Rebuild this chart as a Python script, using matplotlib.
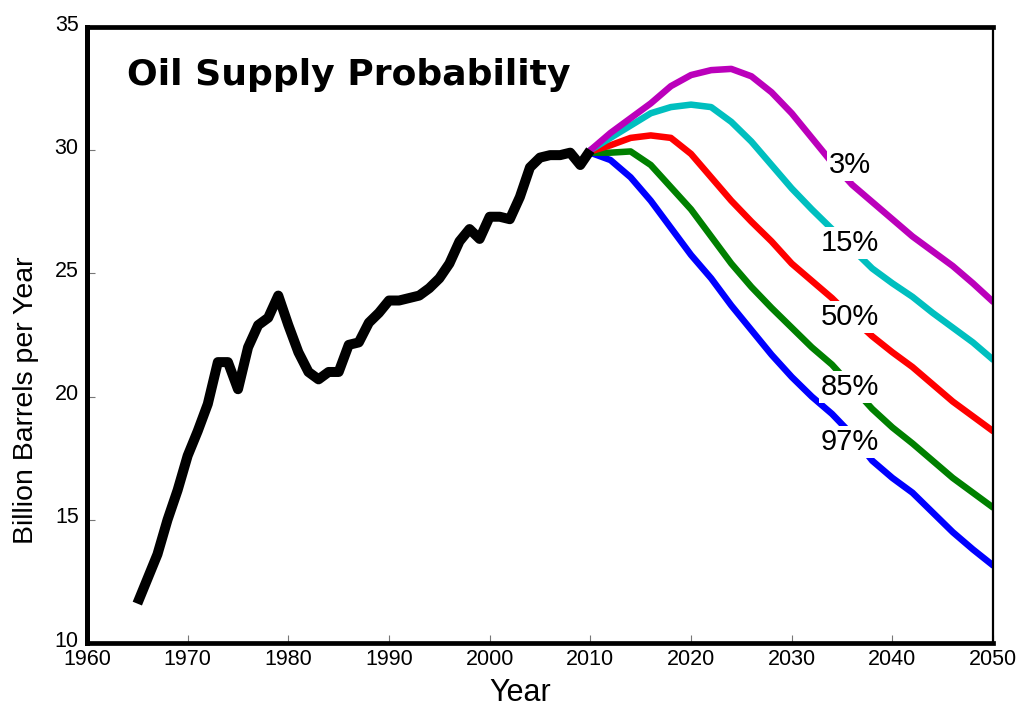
import matplotlib
matplotlib.use("Agg")
import matplotlib.pyplot as plt
import matplotlib.transforms as mtransforms

## DATA ##
# Historical world oil production (billion barrels per year)
hist_years = list(range(1965, 2011))
hist_values = [11.6, 12.6, 13.6, 15.0, 16.2, 17.6, 18.6, 19.7, 21.4, 21.4,
               20.3, 22.0, 22.9, 23.2, 24.1, 22.9, 21.8, 21.0, 20.7, 21.0,
               21.0, 22.1, 22.2, 23.0, 23.4, 23.9, 23.9, 24.0, 24.1, 24.4,
               24.8, 25.4, 26.3, 26.8, 26.4, 27.3, 27.3, 27.2, 28.1, 29.3,
               29.7, 29.8, 29.8, 29.9, 29.4, 30.0]

# Projections, one value every two years from 2010 to 2050
proj_years = list(range(2010, 2051, 2))
p03 = [30.0, 30.7, 31.3, 31.9, 32.6, 33.05, 33.25, 33.3, 33.0, 32.35, 31.5,
       30.5, 29.5, 28.6, 27.9, 27.2, 26.5, 25.9, 25.3, 24.6, 23.85]
p15 = [30.0, 30.5, 31.0, 31.5, 31.75, 31.85, 31.75, 31.15, 30.35, 29.4, 28.45,
       27.6, 26.8, 26.0, 25.2, 24.6, 24.05, 23.4, 22.8, 22.2, 21.5]
p50 = [29.95, 30.2, 30.5, 30.6, 30.5, 29.85, 28.9, 27.95, 27.1, 26.3, 25.4,
       24.7, 24.0, 23.2, 22.45, 21.8, 21.2, 20.5, 19.8, 19.2, 18.6]
p85 = [29.9, 29.9, 29.95, 29.4, 28.5, 27.6, 26.5, 25.4, 24.45, 23.6, 22.8,
       22.0, 21.3, 20.4, 19.5, 18.75, 18.1, 17.4, 16.7, 16.1, 15.5]
p97 = [29.9, 29.6, 28.9, 27.95, 26.85, 25.75, 24.8, 23.7, 22.7, 21.7, 20.8,
       20.0, 19.3, 18.45, 17.4, 16.7, 16.1, 15.3, 14.5, 13.8, 13.15]

prob_labels = ["3%", "15%", "50%", "85%", "97%"]
series = [p03, p15, p50, p85, p97]
colors = ["#BB00BB", "#00BFBF", "#FF0000", "#008000", "#0000FF"]

x_ticks = [1960, 1970, 1980, 1990, 2000, 2010, 2020, 2030, 2040, 2050]
y_ticks = [10, 15, 20, 25, 30, 35]

# where the percentage labels sit (year, value)
label_pos = [(2035.8, 29.4), (2035.8, 26.23), (2035.8, 23.23),
             (2035.8, 20.39), (2035.8, 18.16)]

## PLOT ##
plt.rcParams['font.family'] = ['Liberation Sans', 'DejaVu Sans']

fig = plt.figure(figsize=(10.21, 7.07), dpi=100)
ax = fig.add_axes([0.0852, 0.0905, 0.8874, 0.8713])

# draw lowest-probability last so it sits on top, like the original
for vals, c in reversed(list(zip(series, colors))):
    ax.plot(proj_years, vals, color=c, lw=4.7, solid_joinstyle='round',
            solid_capstyle='round', zorder=2)

ax.plot(hist_years, hist_values, color='black', lw=7.2, solid_joinstyle='round',
        solid_capstyle='butt', zorder=3)

for lab, (x, y) in zip(prob_labels, label_pos):
    ax.text(x, y, lab, fontsize=21, ha='center', va='center', zorder=4,
            bbox=dict(facecolor='white', edgecolor='none', pad=1.5))

ax.set_xlim(1960, 2050)
ax.set_ylim(10, 35)
ax.set_xticks(x_ticks)
ax.set_yticks(y_ticks)
ax.tick_params(direction='in', length=6, width=0.8, color='#777777',
               labelsize=15.5)
ax.tick_params(axis='x', pad=4)
ax.tick_params(axis='y', pad=6)

# y tick labels sit a little above their ticks
offset = mtransforms.ScaledTranslation(0, 4.5 / 100, fig.dpi_scale_trans)
for lab in ax.get_yticklabels():
    lab.set_transform(lab.get_transform() + offset)

ax.spines['left'].set_linewidth(3.6)
ax.spines['bottom'].set_linewidth(3.4)
ax.spines['top'].set_linewidth(3.4)
ax.spines['right'].set_linewidth(1.6)

ax.set_xlabel("Year", fontsize=22)
ax.xaxis.set_label_coords(0.478, -0.057)
ax.set_ylabel("Billion Barrels per Year", fontsize=20.5)
ax.yaxis.set_label_coords(-0.0525, 0.394)

ax.text(0.044, 0.922, "Oil Supply Probability", transform=ax.transAxes,
        fontsize=26, fontweight='bold', family='DejaVu Sans',
        ha='left', va='center')

fig.savefig("out.png", dpi=100)
